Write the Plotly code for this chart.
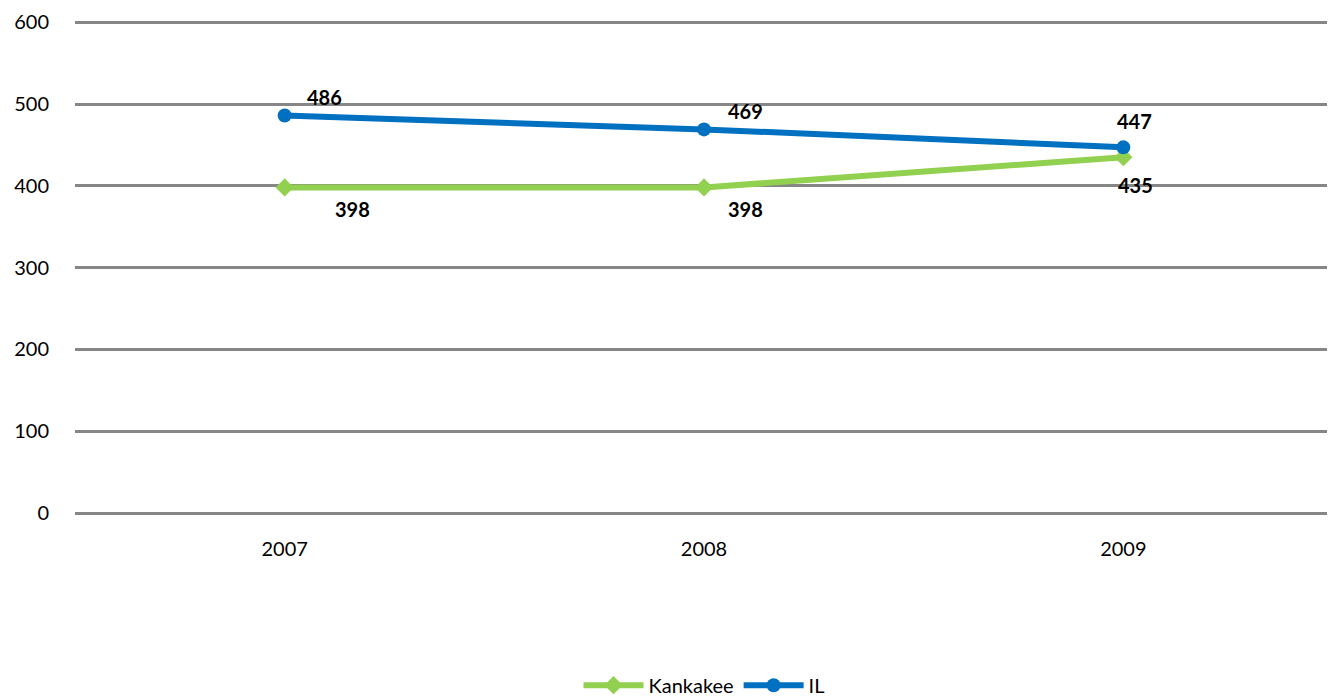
import plotly.graph_objects as go

years = ["2007", "2008", "2009"]
kankakee = [398, 398, 435]
il = [486, 469, 447]

# label offsets (px) for data labels
kk_dx = [68, 41, 12]
kk_dy = [-22, -22, -28]
il_dx = [40, 41, 11]
il_dy = [18, 18, 26]

GREEN = "#92D050"
BLUE = "#0070C0"
FONT = "Lato, 'Open Sans', sans-serif"

fig = go.Figure()
fig.add_trace(go.Scatter(x=years, y=kankakee, name="Kankakee", mode="lines+markers",
                         line=dict(color=GREEN, width=6),
                         marker=dict(symbol="diamond", size=14, color=GREEN)))
fig.add_trace(go.Scatter(x=years, y=il, name="IL", mode="lines+markers",
                         line=dict(color=BLUE, width=6),
                         marker=dict(symbol="circle", size=14, color=BLUE)))

for i in range(len(years)):
    fig.add_annotation(x=i, y=kankakee[i], text=f"<b>{kankakee[i]}</b>", showarrow=False,
                       xref="x", yref="y",
                       xshift=kk_dx[i], yshift=kk_dy[i],
                       font=dict(family=FONT, size=20, color="black"))
    fig.add_annotation(x=i, y=il[i], text=f"<b>{il[i]}</b>", showarrow=False,
                       xref="x", yref="y",
                       xshift=il_dx[i], yshift=il_dy[i],
                       font=dict(family=FONT, size=20, color="black"))

fig.update_layout(
    width=1327, height=690,
    margin=dict(l=67, r=2, t=13, b=185, autoexpand=False),
    plot_bgcolor="white", paper_bgcolor="white",
    font=dict(family=FONT, size=20, color="black"),
    xaxis=dict(type="category", range=[-0.5, 2.5], showgrid=False, zeroline=False,
               showline=False, ticks="", ticklabelstandoff=22, automargin=False,
               tickfont=dict(size=20)),
    yaxis=dict(range=[0, 601.5], tickvals=[0, 100, 200, 300, 400, 500, 600],
               showgrid=True, gridcolor="#868686", gridwidth=3,
               zeroline=True, zerolinecolor="#868686", zerolinewidth=3,
               showline=False, ticks="", ticklabelstandoff=25, automargin=False,
               tickfont=dict(size=20)),
    legend=dict(orientation="h", x=0.5, xanchor="center", y=-0.35, yanchor="middle",
                font=dict(size=20), itemwidth=60),
    showlegend=True,
)

fig.write_html("out.html")
